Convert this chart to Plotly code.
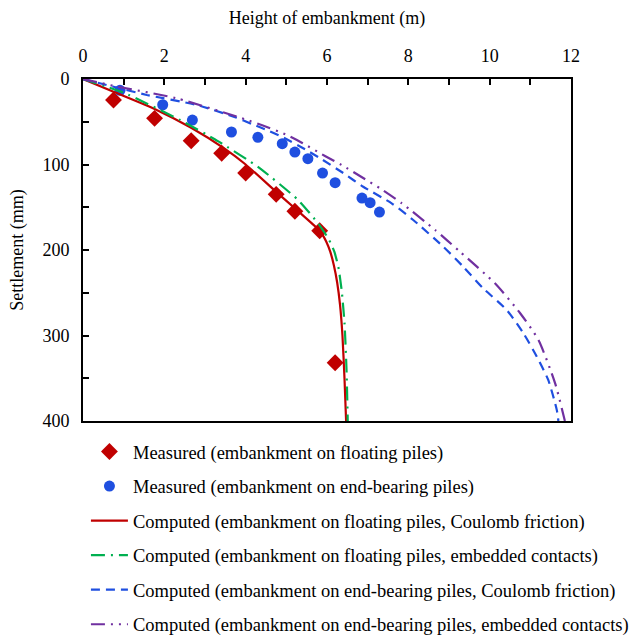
import plotly.graph_objects as go

# Measured data
meas_float_h = [0.75, 1.76, 2.66, 3.41, 4.00, 4.75, 5.21, 5.82, 6.20]
meas_float_s = [24.6, 46.0, 72.2, 86.9, 109.9, 134.9, 154.7, 177.4, 331.8]

meas_end_h = [0.91, 1.96, 2.69, 3.65, 4.30, 4.90, 5.21, 5.53, 5.89, 6.20, 6.86, 7.06, 7.29]
meas_end_s = [13.2, 30.1, 48.0, 62.0, 68.2, 75.7, 85.4, 93.2, 110.0, 121.3, 139.2, 144.7, 155.6]

# Computed curves
comp_float_coul_h = [0, 0.75, 1.76, 2.66, 3.5, 4.0, 4.75, 5.3, 5.83, 5.98, 6.08, 6.17, 6.25, 6.32, 6.38, 6.43, 6.47]
comp_float_coul_s = [0, 15, 35, 57, 82, 100, 132, 155, 178, 190, 202, 218, 238, 264, 300, 350, 400]

comp_float_emb_h = [0, 1.0, 2.39, 3.33, 4.31, 5.29, 5.8, 6.05, 6.18, 6.28, 6.36, 6.43, 6.48, 6.51]
comp_float_emb_s = [0, 16, 48, 73, 103, 141.5, 170, 188, 202, 220, 247, 285, 340, 400]

comp_end_coul_h = [0, 0.75, 1.57, 2.8, 3.76, 4.15, 4.56, 4.89, 5.46, 5.83, 6.40, 6.89, 7.59, 8.12,
                   8.86, 9.35, 9.84, 10.42, 10.83, 11.16, 11.44, 11.65, 11.69]
comp_end_coul_s = [0, 9, 18.7, 30.4, 45, 52.6, 60.5, 67.5, 82.2, 92.7, 110, 126, 145.4, 164.9,
                   196.1, 219.5, 244.8, 270.2, 297.4, 324.8, 352, 387, 400]

comp_end_emb_h = [0, 0.75, 2.3, 3.98, 4.39, 5.01, 5.38, 5.95, 6.36, 6.93, 7.30, 7.84, 8.66, 9.27,
                  10.13, 10.75, 11.20, 11.61, 11.85]
comp_end_emb_s = [0, 8, 22.6, 47, 53.8, 65.5, 74.5, 90, 100.6, 117, 127.8, 145.4, 176.6, 202,
                  239, 274, 305.3, 356, 400]

names = [
    "Measured (embankment on floating piles)",
    "Measured (embankment on end-bearing piles)",
    "Computed (embankment on floating piles, Coulomb friction)",
    "Computed (embankment on floating piles, embedded contacts)",
    "Computed (embankment on end-bearing piles, Coulomb friction)",
    "Computed (embankment on end-bearing piles, embedded contacts)",
]

RED = "#C00000"
BLUE = "#1F4FE0"
GREEN = "#00B050"
PURPLE = "#7030A0"
FONT = "Times New Roman, Liberation Serif, serif"

fig = go.Figure()
fig.add_trace(go.Scatter(x=meas_float_h, y=meas_float_s, mode="markers", name=names[0],
                         marker=dict(symbol="diamond", size=13, color=RED), legendgroup="a"))
fig.add_trace(go.Scatter(x=meas_end_h, y=meas_end_s, mode="markers", name=names[1],
                         marker=dict(symbol="circle", size=11, color=BLUE), legendgroup="b"))
fig.add_trace(go.Scatter(x=comp_float_coul_h, y=comp_float_coul_s, mode="lines", name=names[2],
                         line=dict(color=RED, width=2.2, shape="spline", smoothing=0.5), legendgroup="c"))
fig.add_trace(go.Scatter(x=comp_float_emb_h, y=comp_float_emb_s, mode="lines", name=names[3],
                         line=dict(color=GREEN, width=2.2, dash="14px,6px,2px,6px", shape="spline", smoothing=0.5),
                         legendgroup="d"))
fig.add_trace(go.Scatter(x=comp_end_coul_h, y=comp_end_coul_s, mode="lines", name=names[4],
                         line=dict(color=BLUE, width=2.2, dash="9px,6px", shape="spline", smoothing=0.6),
                         legendgroup="e"))
fig.add_trace(go.Scatter(x=comp_end_emb_h, y=comp_end_emb_s, mode="lines", name=names[5],
                         line=dict(color=PURPLE, width=2.2, dash="14px,6px,2px,6px,2px,6px", shape="spline",
                                   smoothing=0.6),
                         legendgroup="f"))

axis_font = dict(family=FONT, size=18, color="black")

fig.update_layout(
    width=630, height=635,
    margin=dict(l=83, r=59, t=79, b=214, autoexpand=False),
    paper_bgcolor="white", plot_bgcolor="white",
    font=dict(family=FONT, size=18, color="black"),
    showlegend=True,
    legend=dict(x=0.006, y=-0.035, xanchor="left", yanchor="top", traceorder="grouped",
                tracegroupgap=7.5, itemwidth=37, font=dict(family=FONT, size=18.5),
                bgcolor="rgba(0,0,0,0)"),
    xaxis=dict(side="top", range=[0, 12], tickvals=[0, 2, 4, 6, 8, 10, 12],
               ticks="inside", ticklen=6, tickwidth=1.5, tickcolor="black", ticklabelstandoff=8,
               minor=dict(dtick=1, ticks="inside", ticklen=6, tickwidth=1.5, tickcolor="black"),
               showline=True, linecolor="black", linewidth=2, mirror=True, showgrid=False,
               zeroline=False, tickfont=axis_font,
               title=dict(text="Height of embankment (m)", font=axis_font, standoff=16)),
    yaxis=dict(range=[400, 0], tickvals=[0, 100, 200, 300, 400],
               ticks="inside", ticklen=6, tickwidth=1.5, tickcolor="black", ticklabelstandoff=8,
               minor=dict(dtick=50, ticks="inside", ticklen=6, tickwidth=1.5, tickcolor="black"),
               showline=True, linecolor="black", linewidth=2, mirror=True, showgrid=False,
               zeroline=False, tickfont=axis_font,
               title=dict(text="Settlement (mm)", font=axis_font, standoff=14)),
)

fig.write_html("out.html")
